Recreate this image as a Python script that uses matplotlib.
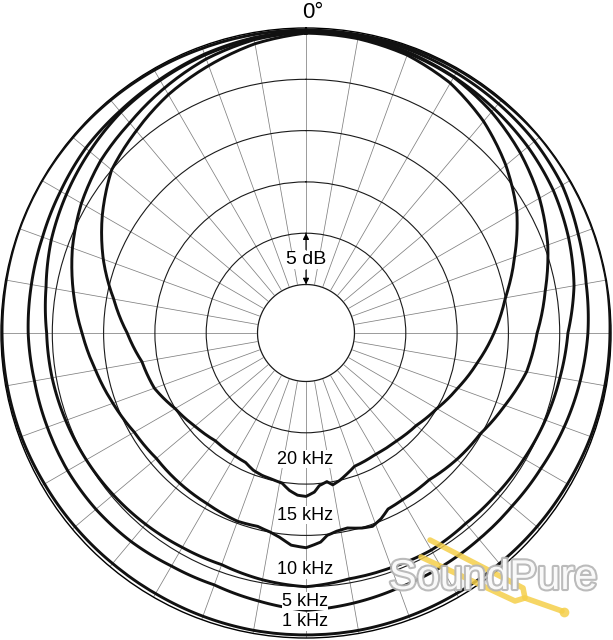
import matplotlib
matplotlib.use("Agg")
import matplotlib.pyplot as plt
import matplotlib.patheffects as pe
import numpy as np

plt.rcParams['font.family'] = ['Liberation Sans', 'DejaVu Sans']

# polar response, angle in degrees (clockwise from front), level in dB
ang_1k = [0, 10, 20, 30, 40, 50, 60, 70, 80, 90, 100, 110, 120, 130, 140, 150, 160, 170,
          180, 190, 200, 210, 220, 230, 240, 250, 260, 270, 280, 290, 300, 310, 320, 330, 340, 350]
db_1k = [-0.2, -0.2, -0.15, -0.1, -0.1, 0.0, 0.0, 0.0, 0.0, -0.1, -0.15, -0.2, -0.3, -0.35, -0.4, -0.4, -0.35, -0.3,
         -0.3, -0.3, -0.35, -0.4, -0.4, -0.35, -0.3, -0.2, -0.15, -0.1, -0.05, 0.0, 0.0, -0.05, -0.1, -0.15, -0.2, -0.2]

ang_5k = ang_1k
db_5k = [-0.3, -0.3, -0.35, -0.45, -0.55, -0.65, -0.9, -1.5, -2.0, -2.25, -2.6, -2.95, -3.3, -3.5, -3.5, -3.4, -3.3, -3.0,
         -2.7, -3.2, -3.6, -3.5, -3.2, -3.0, -2.9, -2.9, -2.85, -2.65, -2.55, -2.4, -2.1, -1.7, -1.5, -1.2, -0.8, -0.5]

ang_10k = ang_1k
db_10k = [-0.3, -0.4, -0.6, -0.9, -1.2, -1.5, -1.9, -2.5, -3.2, -4.2, -4.6, -4.9, -5.2, -5.4, -5.5, -5.3, -5.4, -5.4,
          -5.0, -5.3, -5.7, -5.6, -5.4, -5.2, -5.0, -4.8, -4.6, -4.45, -4.0, -3.3, -2.75, -2.2, -1.65, -1.3, -0.9, -0.6]

ang_15k = [0, 10, 20, 30, 40, 50, 60, 70, 80, 90, 100, 110, 120, 130, 140, 150, 155, 158, 161, 164, 168, 171, 174,
           176, 180, 184, 187, 190, 194, 200, 210, 220, 230, 240, 250, 260, 270, 280, 290, 300, 310, 320, 330, 340, 350]
db_15k = [-0.4, -0.5, -0.7, -0.95, -1.6, -2.45, -3.45, -4.65, -6.05, -7.2, -7.9, -9.1, -10.1, -10.55, -11.05, -10.95,
          -10.8, -10.2, -9.8, -9.95, -10.3, -10.2, -9.9, -9.3, -8.8, -9.0, -9.6, -10.0, -10.3, -10.2, -10.5, -10.6,
          -10.7, -10.4, -9.7, -8.9, -7.9, -6.7, -5.5, -4.45, -3.6, -3.0, -2.15, -1.3, -0.7]

ang_20k = [0, 10, 20, 30, 40, 50, 60, 70, 80, 90, 100, 110, 120, 130, 140, 150, 155, 160, 164, 167, 170, 172, 175,
           177, 180, 183, 186, 189, 193, 197, 201, 205, 210, 220, 230, 240, 250, 260, 270, 280, 290, 300, 310,
           320, 330, 340, 350]
db_20k = [-0.5, -0.6, -0.9, -1.6, -2.8, -4.3, -6.0, -8.1, -10.0, -11.4, -12.8, -14.0, -15.0, -15.7, -16.0, -16.1,
          -16.0, -15.9, -15.4, -15.0, -14.7, -15.1, -14.8, -14.2, -13.8, -13.9, -14.3, -14.9, -15.1, -15.2, -15.4,
          -15.8, -15.9, -16.0, -15.6, -15.0, -14.0, -13.5, -12.3, -10.7, -8.7, -6.8, -5.0, -4.0, -2.9, -2.0, -1.1]

curves = [(ang_1k, db_1k), (ang_5k, db_5k), (ang_10k, db_10k), (ang_15k, db_15k), (ang_20k, db_20k)]
labels = ["20 kHz", "15 kHz", "10 kHz", "5 kHz", "1 kHz"]
label_y = [459, 515, 570, 601, 622]  # pixel rows of the labels

W, H = 613, 640
fig = plt.figure(figsize=(W / 100, H / 100), dpi=100)
cx, cy, R, R_in = 306, 333, 305, 48.5
# -25 dB sits on the rim of the centre hole; radius 0 lies OFS dB below 0 dB
OFS = 25 + 25 * R_in / (R - R_in)
ax = fig.add_axes([(cx - R) / W, (H - cy - R) / H, 2 * R / W, 2 * R / H], projection='polar')
ax.set_theta_zero_location('N')
ax.set_theta_direction(-1)
ax.set_ylim(0, OFS)

ax.set_thetagrids(np.arange(0, 360, 10), labels=[''] * 36)
ax.set_rgrids([OFS - 20, OFS - 15, OFS - 10, OFS - 5], labels=[''] * 4)
ax.xaxis.grid(True, color='0.5', lw=0.55)
ax.yaxis.grid(True, color='0.1', lw=0.8)
ax.tick_params(length=0)
ax.set_axisbelow(True)
ax.spines['polar'].set_linewidth(1.0)

# centre hole
tt = np.linspace(0, 2 * np.pi, 181)
ax.fill(tt, np.full_like(tt, OFS - 25), color='white', zorder=1)
ax.plot(tt, np.full_like(tt, OFS - 25), color='0.1', lw=0.9, zorder=1.1)

for ang, db in curves:
    t = np.radians(np.append(ang, 360))
    r = np.append(db, db[0]) + OFS
    line, = ax.plot(t, r, color='#111111', lw=2.1, solid_joinstyle='round', zorder=3)
    # let the polar projection draw each segment as a spiral arc
    line.get_path()._interpolation_steps = 16

# 5 dB scale arrows
arrow = dict(arrowstyle='-|>', color='k', lw=0.8, mutation_scale=9, shrinkA=0, shrinkB=0)
ax.annotate('', xy=(0, OFS - 20), xytext=(0, OFS - 21.6), arrowprops=arrow, zorder=4)
ax.annotate('', xy=(0, OFS - 25), xytext=(0, OFS - 23.6), arrowprops=arrow, zorder=4)
fig.text(306 / W, 1 - 260 / H, "5 dB", ha='center', va='center', fontsize=14,
         bbox=dict(fc='white', ec='none', pad=0.3))

fig.text(313 / W, 1 - 12 / H, "0°", ha='center', va='center', fontsize=16)

for lab, y in zip(labels, label_y):
    fig.text(305 / W, 1 - y / H, lab, ha='center', va='center', fontsize=13,
             bbox=dict(fc='white', ec='none', pad=0.3))

# watermark
yel = '#f5cf4a'
fig.lines.append(plt.Line2D([430 / W, 523 / W, 525 / W], [1 - 540 / H, 1 - 588 / H, 1 - 598 / H],
                            transform=fig.transFigure, color=yel, lw=4, alpha=0.85,
                            solid_capstyle='round', solid_joinstyle='round'))
fig.lines.append(plt.Line2D([421 / W, 515 / W, 525 / W, 562 / W], [1 - 557 / H, 1 - 601 / H, 1 - 598 / H, 1 - 611 / H],
                            transform=fig.transFigure, color=yel, lw=4, alpha=0.85,
                            solid_capstyle='round', solid_joinstyle='round'))
fig.lines.append(plt.Line2D([564 / W], [1 - 612 / H], transform=fig.transFigure, color=yel, alpha=0.85,
                            marker='o', ms=7, mew=0))
fig.text(493 / W, 1 - 578 / H, "SoundPure", ha='center', va='center', fontsize=30,
         family=['Liberation Sans Narrow', 'Liberation Sans'], color='white', alpha=0.92,
         path_effects=[pe.withStroke(linewidth=3, foreground='#b5b5b5')])

fig.savefig("out.png", dpi=100)
